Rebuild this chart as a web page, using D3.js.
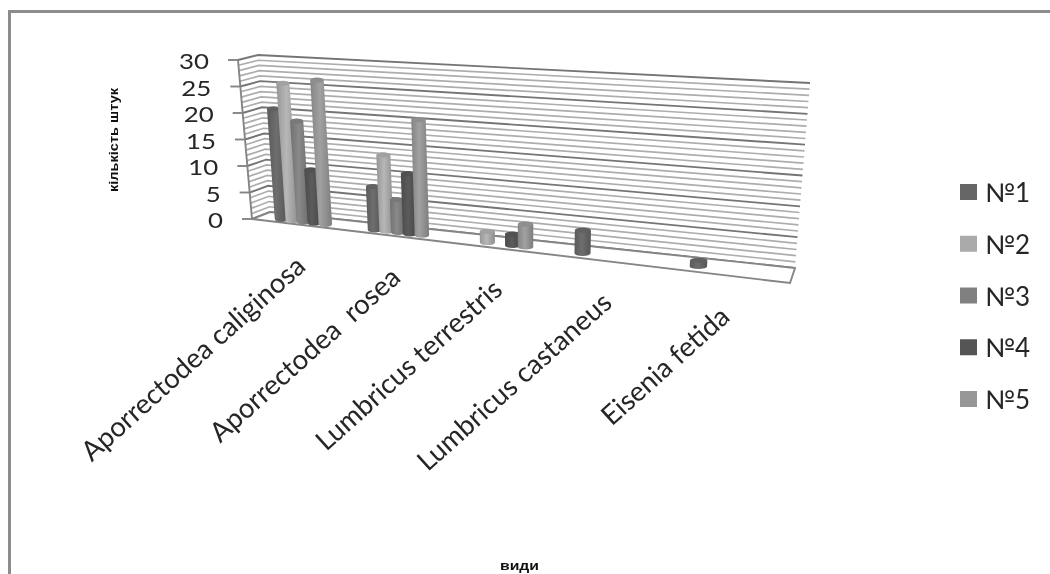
<!DOCTYPE html>
<html>
<head>
<meta charset="utf-8">
<script src="https://cdn.jsdelivr.net/npm/d3@7"></script>
<style>
    html, body { margin: 0; padding: 0; background: #fff; }
    svg { display: block; filter: blur(0.45px); }
    text { font-family: Lato, "Open Sans", sans-serif; fill: #262626; white-space: pre; }
    .axis_title { font-family: "Liberation Sans", sans-serif; font-weight: bold; font-size: 13px; fill: #111; }
</style>
</head>
<body>
<script>
// Values
let categories = ['Aporrectodea caliginosa', 'Aporrectodea  rosea', 'Lumbricus terrestris', 'Lumbricus castaneus', 'Eisenia fetida'];
let seriesNames = ['№1', '№2', '№3', '№4', '№5'];
let no1 = [21, 8, 0, 4, 1];
let no2 = [26, 14, 2, 0, 0];
let no3 = [19, 6, 0, 0, 0];
let no4 = [10, 11, 2, 0, 0];
let no5 = [27, 21, 4, 0, 0];
let seriesValues = [no1, no2, no3, no4, no5];
let seriesColors = ['#666666', '#aaaaaa', '#808080', '#555555', '#969696'];
let yTicks = [0, 5, 10, 15, 20, 25, 30];

let width = 1050, height = 574;

let svg = d3.select('body').append('svg')
    .attr('width', width)
    .attr('height', height);

// Corners of the 3D box, as drawn by the original perspective
let frontBottomLeft = [252, 219], frontTopLeft = [238, 60];
let backBottomLeft = [270, 212], backTopLeft = [258, 55];
let backBottomRight = [795, 268], backTopRight = [810, 83];
let frontBottomRight = [790, 283];

function lerp (a, b, t) {
    return [a[0] + (b[0] - a[0]) * t, a[1] + (b[1] - a[1]) * t];
}

// Depth foreshortening along the floor: u in [0,1] -> screen x
let persp = -0.1655;
function projectX (u) {
    return (258 + (790 * (1 + persp) - 258) * u) / (1 + persp * u);
}

// Scales
let heightScale = d3.scaleLinear().domain([0, 30]).range([0, 1]);
let catScale = d3.scaleBand().domain(categories).range([0, 1]);
let seriesScale = d3.scaleBand().domain(seriesNames).range([0, catScale.bandwidth()]).paddingInner(0).paddingOuter(1.67);

function floorFrontY (x) {
    return frontBottomLeft[1] + (x - frontBottomLeft[0]) * (frontBottomRight[1] - frontBottomLeft[1]) / (frontBottomRight[0] - frontBottomLeft[0]);
}
function floorBackY (x) {
    return backBottomLeft[1] + (x - backBottomLeft[0]) * (backBottomRight[1] - backBottomLeft[1]) / (backBottomRight[0] - backBottomLeft[0]);
}
// Wall height in pixels at a given x, and how far verticals lean there
function wallHeight (x) {
    let t = (x - 264) / (802 - 264);
    return 157 + (185 - 157) * t;
}
function wallLean (x) {
    let t = (x - 264) / (802 - 264);
    return -0.076 + 0.157 * t;
}

// Frame (only top and left edges are on the picture)
svg.append('line').attr('x1', 9.5).attr('y1', 11.5).attr('x2', width).attr('y2', 11.5)
    .attr('stroke', '#8c8c8c').attr('stroke-width', 3);
svg.append('line').attr('x1', 9.5).attr('y1', 10).attr('x2', 9.5).attr('y2', height)
    .attr('stroke', '#8c8c8c').attr('stroke-width', 3);

// Gridlines on back and side walls, light every 1, dark every 5
let gridGroup = svg.append('g').classed('grid', true);
let minorValues = d3.range(0, 31).filter(v => !yTicks.includes(v));

function drawGrid (values, stroke, strokeWidth) {
    values.forEach(v => {
        let t = heightScale(v);
        let a = lerp(frontBottomLeft, frontTopLeft, t);
        let b = lerp(backBottomLeft, backTopLeft, t);
        let c = lerp(backBottomRight, backTopRight, t);
        gridGroup.append('polyline')
            .attr('points', [a, b, c].map(p => p.join(',')).join(' '))
            .attr('fill', 'none')
            .attr('stroke', stroke)
            .attr('stroke-width', strokeWidth);
    });
}
drawGrid(minorValues, '#adadad', 1.7);
drawGrid(yTicks, '#757575', 1.9);

// Floor outline
svg.append('polygon')
    .attr('points', [frontBottomLeft, backBottomLeft, backBottomRight, frontBottomRight].map(p => p.join(',')).join(' '))
    .attr('fill', '#fff')
    .attr('stroke', '#858585')
    .attr('stroke-width', 1.9);

// Value axis and ticks
svg.append('line')
    .attr('x1', frontBottomLeft[0]).attr('y1', frontBottomLeft[1])
    .attr('x2', frontTopLeft[0]).attr('y2', frontTopLeft[1])
    .attr('stroke', '#858585').attr('stroke-width', 1.9);

let tickGroups = svg.selectAll('g.ytick').data(yTicks).enter().append('g').classed('ytick', true)
    .attr('transform', d => {
        let p = lerp(frontBottomLeft, frontTopLeft, heightScale(d));
        return 'translate(' + p[0] + ',' + p[1] + ')';
    });
tickGroups.append('line').attr('x1', -10).attr('x2', 0).attr('stroke', '#858585').attr('stroke-width', 1.9);
// Stretched sideways so the bigger-looking digits keep their line boxes apart
tickGroups.append('text')
    .attr('x', -29)
    .attr('y', 9)
    .attr('textLength', d => String(d).length * 15)
    .attr('lengthAdjust', 'spacingAndGlyphs')
    .style('text-anchor', 'end')
    .style('font-size', '22px')
    .text(d => d);

// Cylinder shading for each series
let defs = svg.append('defs');
seriesColors.forEach((color, i) => {
    let grad = defs.append('linearGradient').attr('id', 'cyl' + i);
    let base = d3.color(color);
    grad.append('stop').attr('offset', '0%').attr('stop-color', base.darker(0.35));
    grad.append('stop').attr('offset', '45%').attr('stop-color', base.brighter(0.2));
    grad.append('stop').attr('offset', '100%').attr('stop-color', base.darker(0.5));
});

// Flatten to bars, drawn category by category
let bars = [];
categories.forEach((cat, c) => {
    seriesNames.forEach((name, s) => {
        if (seriesValues[s][c] > 0) {
            bars.push({cat: cat, name: name, series: s, value: seriesValues[s][c]});
        }
    });
});

let barGroups = svg.selectAll('g.bar').data(bars).enter().append('g').classed('bar', true);

barGroups.each(function (d) {
    let u0 = catScale(d.cat) + seriesScale(d.name);
    let u1 = u0 + seriesScale.bandwidth();
    let left = projectX(u0), right = projectX(u1);
    let xBase = (left + right) / 2;
    let w = (right - left) * 1.2;
    let ry = 2.6;
    let yBase = (floorFrontY(xBase) + floorBackY(xBase)) / 2 + 1.5;
    let h = heightScale(d.value) * wallHeight(xBase);
    let xTop = xBase + wallLean(xBase) * h;
    let yTop = yBase - h;
    let g = d3.select(this);

    let body = 'M' + (xBase - w / 2) + ',' + yBase
        + ' L' + (xTop - w / 2) + ',' + yTop
        + ' L' + (xTop + w / 2) + ',' + yTop
        + ' L' + (xBase + w / 2) + ',' + yBase
        + ' A' + (w / 2) + ',' + ry + ' 0 0 1 ' + (xBase - w / 2) + ',' + yBase + ' Z';
    g.append('path').attr('d', body).attr('fill', 'url(#cyl' + d.series + ')');
    g.append('ellipse')
        .attr('cx', xTop).attr('cy', yTop)
        .attr('rx', w / 2).attr('ry', ry)
        .attr('fill', d3.color(seriesColors[d.series]).darker(0.15));
});

// Category labels, ending under the middle of each category
svg.selectAll('text.cat').data(categories).enter().append('text').classed('cat', true)
    .attr('transform', d => {
        let x = projectX(catScale(d) + catScale.bandwidth() / 2) + 4;
        let y = floorFrontY(x) + 43;
        return 'translate(' + x + ',' + y + ') rotate(-42)';
    })
    .style('text-anchor', 'end')
    .style('font-size', '27.5px')
    .text(d => d);

// Axis titles
svg.append('text').classed('axis_title', true)
    .attr('transform', 'translate(118,192) rotate(-90)')
    .attr('textLength', 104)
    .attr('lengthAdjust', 'spacingAndGlyphs')
    .text('кількість штук');
svg.append('text').classed('axis_title', true)
    .attr('x', 500).attr('y', 570)
    .attr('textLength', 39)
    .attr('lengthAdjust', 'spacingAndGlyphs')
    .text('види');

// Legend
let legendScale = d3.scalePoint().domain(seriesNames).range([192, 399]);
let legendGroups = svg.selectAll('g.legend').data(seriesNames).enter().append('g').classed('legend', true)
    .attr('transform', d => 'translate(960,' + legendScale(d) + ')');
legendGroups.append('rect')
    .attr('x', 0).attr('y', -8)
    .attr('width', 17).attr('height', 16)
    .style('fill', (d, i) => seriesColors[i]);
legendGroups.append('text')
    .attr('x', 25).attr('y', 10)
    .style('font-size', '26px')
    .text(d => d);
</script>
</body>
</html>
